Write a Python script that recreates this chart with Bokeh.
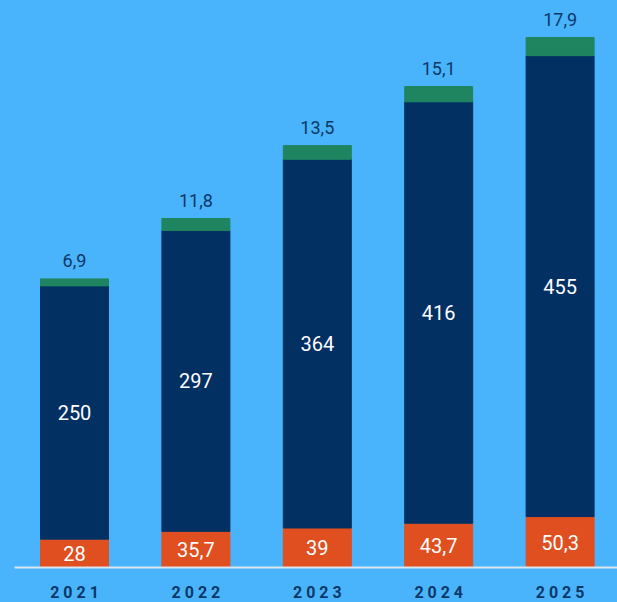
from bokeh.plotting import figure
from bokeh.models import ColumnDataSource, Range1d
from bokeh.core.properties import value
from bokeh.embed import file_html
from bokeh.resources import INLINE

years = ["2021", "2022", "2023", "2024", "2025"]
orange_vals = [28, 35.7, 39, 43.7, 50.3]
navy_vals = [250, 297, 364, 416, 455]
green_vals = [6.9, 11.8, 13.5, 15.1, 17.9]

BG = "#49B4FB"
ORANGE = "#E04F20"
NAVY = "#023063"
GREEN = "#1F8560"
LABEL = "#0B3868"

def fmt(v):
    return ("%g" % v).replace(".", ",")

W, H = 617, 602
scale_x = 121.4
x0 = -74 / scale_x
x1 = x0 + W / scale_x
scale_y = 1.013
y0 = -35 / scale_y
y1 = y0 + H / scale_y

xs = list(range(len(years)))
n_top = [a + b for a, b in zip(orange_vals, navy_vals)]
g_top = [a + b for a, b in zip(n_top, green_vals)]

src = ColumnDataSource(dict(
    x=xs,
    o_top=orange_vals,
    n_bot=orange_vals,
    n_top=n_top,
    g_top=g_top,
    o_mid=[v / 2 for v in orange_vals],
    n_mid=[b + v / 2 for b, v in zip(orange_vals, navy_vals)],
    o_lab=[fmt(v) for v in orange_vals],
    n_lab=[fmt(v) for v in navy_vals],
    g_lab=[fmt(v) for v in green_vals],
    yr_lab=[" ".join(list(y)) for y in years],
    yr_y=[y0] * len(years),
))

p = figure(width=W, height=H, output_backend="svg", toolbar_location=None,
           x_range=Range1d(x0, x1), y_range=Range1d(y0, y1),
           min_border=0, background_fill_color=BG, border_fill_color=BG,
           outline_line_color=None)
p.axis.visible = False
p.grid.visible = False

bw = 68 / scale_x
p.vbar(x="x", bottom=0, top="o_top", width=bw, source=src,
       fill_color=ORANGE, line_color=ORANGE)
p.vbar(x="x", bottom="n_bot", top="n_top", width=bw, source=src,
       fill_color=NAVY, line_color=NAVY)
p.vbar(x="x", bottom="n_top", top="g_top", width=bw, source=src,
       fill_color=GREEN, line_color=GREEN)

# baseline
p.segment(x0=[x0 + 14 / scale_x], y0=[0], x1=[x1], y1=[0],
          line_color="#DCE6EE", line_width=2)

font = value("Roboto")
p.text(x="x", y="o_mid", text="o_lab", source=src, text_color="white",
       text_font=font, text_font_size="20px", text_align="center",
       text_baseline="middle")
p.text(x="x", y="n_mid", text="n_lab", source=src, text_color="white",
       text_font=font, text_font_size="20px", text_align="center",
       text_baseline="middle")
p.text(x="x", y="g_top", text="g_lab", source=src, text_color=LABEL,
       text_font=font, text_font_size="18px", text_align="center",
       text_baseline="middle", y_offset=-18)
p.text(x="x", y="yr_y", text="yr_lab", source=src, text_color=LABEL,
       text_font=font, text_font_size="16px", text_font_style="bold",
       text_align="center", text_baseline="bottom", y_offset=-1)

html = file_html(p, INLINE)
html = html.replace("</head>", "<style>html,body{background:%s;margin:0;}</style></head>" % BG, 1)
open("out.html", "w").write(html)
